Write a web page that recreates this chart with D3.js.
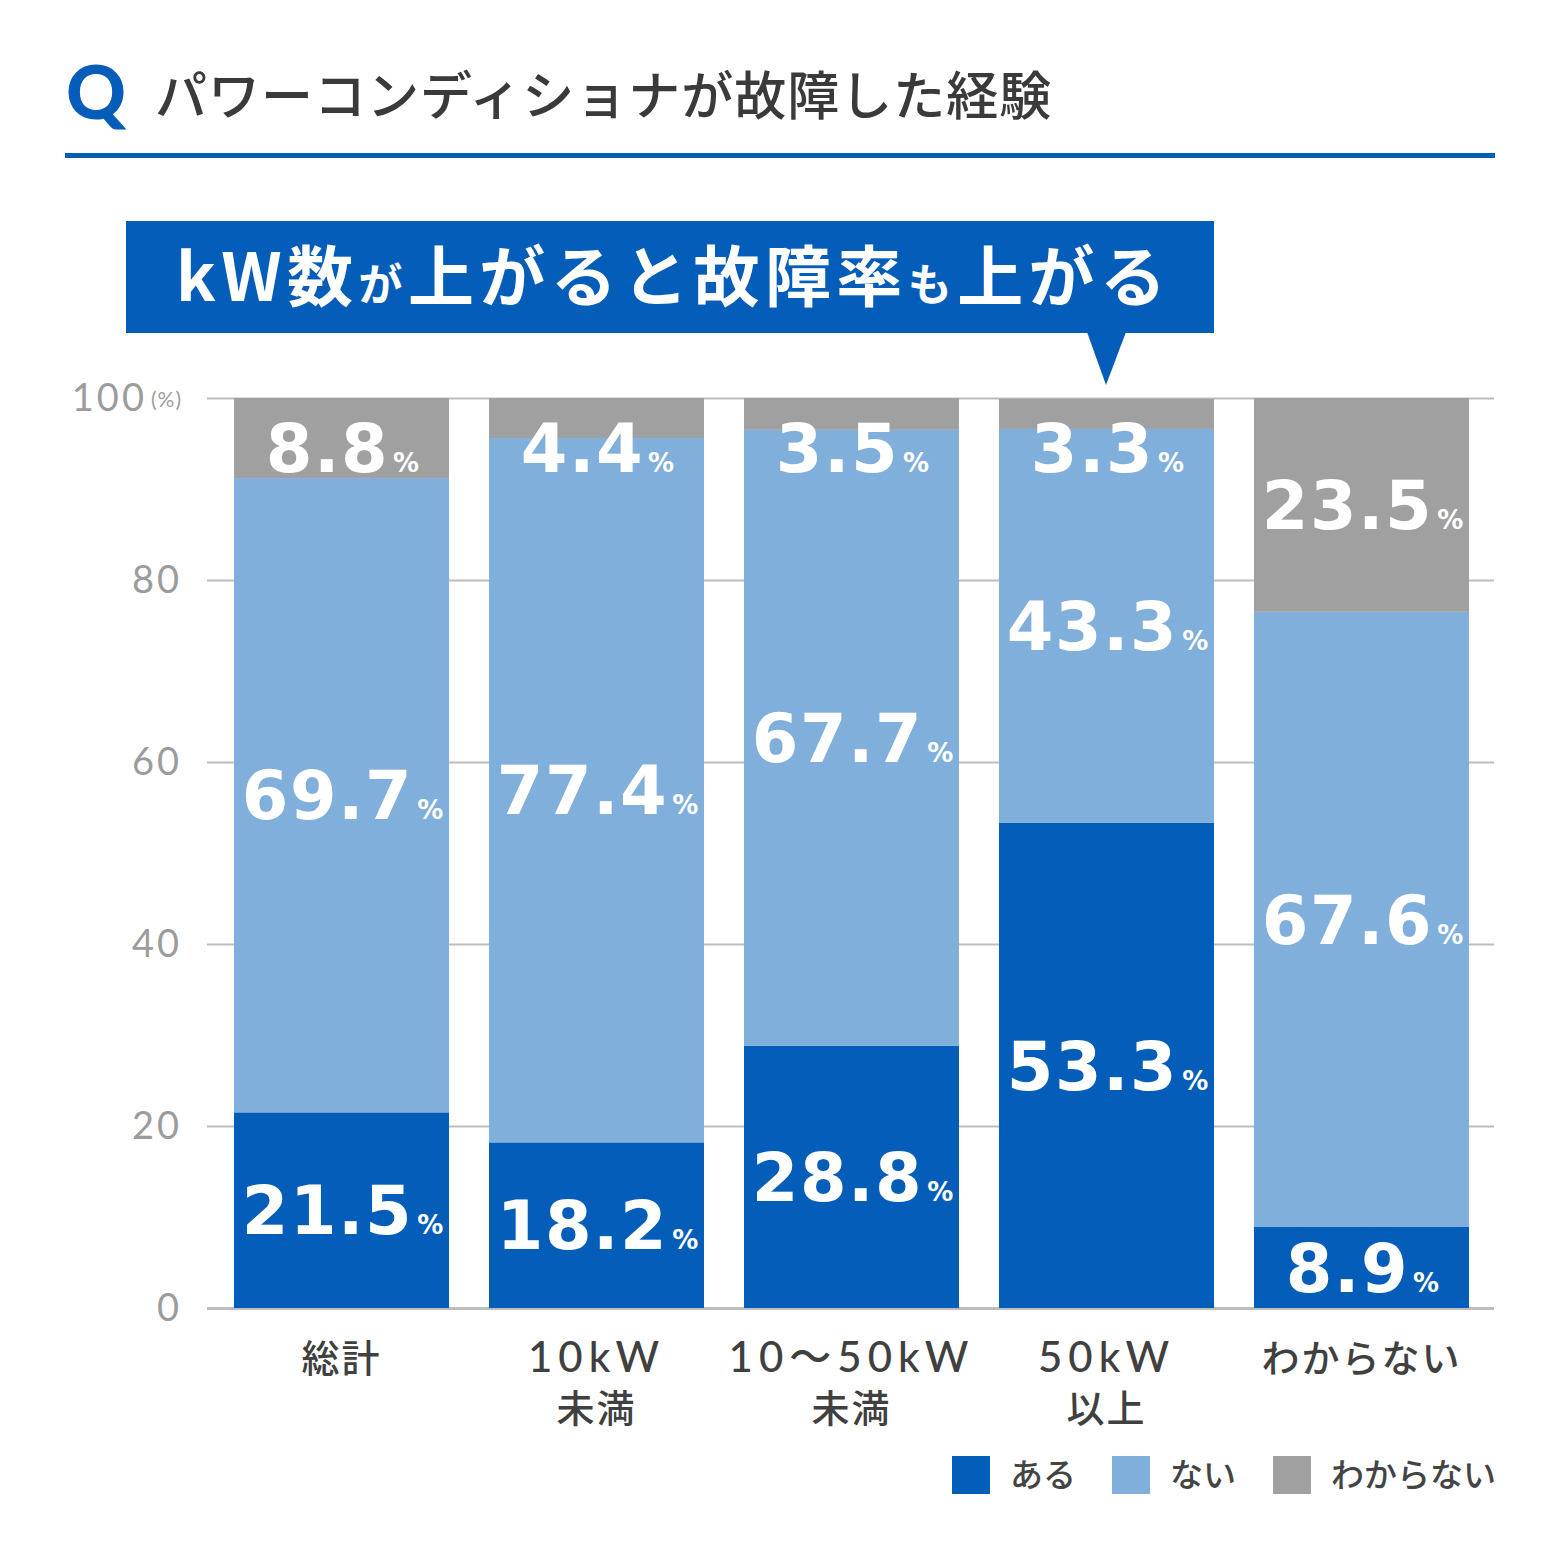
<!DOCTYPE html>
<html lang="ja">
<head>
<meta charset="UTF-8">
<title>パワーコンディショナが故障した経験</title>
<style>
  html, body { margin: 0; padding: 0; background: #fff; }
  svg { display: block; }
</style>
</head>
<body>
<div id="chart"></div>
<script src="https://d3js.org/d3.v7.min.js"></script>
<script>
// data
const categories = ["総計", "10kW未満", "10〜50kW未満", "50kW以上", "わからない"];
const categoryLines = [["総計"], ["10kW", "未満"], ["10〜50kW", "未満"], ["50kW", "以上"], ["わからない"]];
const seriesNames = ["ある", "ない", "わからない"];
const aruValues = [21.5, 18.2, 28.8, 53.3, 8.9];
const naiValues = [69.7, 77.4, 67.7, 43.3, 67.6];
const wakaranaiValues = [8.8, 4.4, 3.5, 3.3, 23.5];
const yTicks = [0, 20, 40, 60, 80, 100];

const width = 1560, height = 1560;
const colors = ["#045db8", "#80afdb", "#a0a0a0"];
const jp = "'Noto Sans CJK JP', 'Noto Sans', sans-serif";
const num = "'DejaVu Sans', 'Noto Sans', sans-serif";

const svg = d3.select("#chart").append("svg")
  .attr("width", width)
  .attr("height", height)
  .attr("viewBox", [0, 0, width, height]);

// header
svg.append("text")
  .attr("x", 66).attr("y", 119)
  .attr("font-family", "Lato, sans-serif").attr("font-weight", 900)
  .attr("font-size", 74).attr("fill", "#045db8")
  .text("Q");

svg.append("text")
  .attr("x", 155).attr("y", 115)
  .attr("font-family", jp).attr("font-weight", 500)
  .attr("font-size", 52).attr("fill", "#3a3a3a")
  .attr("letter-spacing", 1)
  .text("パワーコンディショナが故障した経験");

svg.append("rect")
  .attr("x", 65).attr("y", 153).attr("width", 1430).attr("height", 5)
  .attr("fill", "#045db8");

// callout
svg.append("rect")
  .attr("x", 126).attr("y", 221).attr("width", 1088).attr("height", 112)
  .attr("fill", "#045db8");
svg.append("path")
  .attr("d", "M1087,332 L1126,332 L1106,385 Z")
  .attr("fill", "#045db8");

const callout = svg.append("text")
  .attr("x", 176).attr("y", 277)
  .attr("font-size", 66)
  .attr("dy", "0.36em")
  .attr("font-family", jp).attr("font-weight", 700)
  .attr("fill", "#fff")
  .attr("textLength", 990).attr("lengthAdjust", "spacing");
[["kW数", 66], ["が", 44], ["上がると故障率", 66], ["も", 44], ["上がる", 66]].forEach(([t, s]) => {
  callout.append("tspan").attr("font-size", s).text(t);
});

// scales
const x = d3.scaleBand(categories, [214, 1489])
  .paddingInner(40 / 255)
  .paddingOuter(20 / 255);
const y = d3.scaleLinear([0, 100], [1308, 398]);

// grid / y axis
const yAxis = svg.append("g")
  .attr("transform", "translate(207,0)")
  .call(d3.axisLeft(y).tickValues(yTicks).tickSize(-(1494 - 207)).tickPadding(25));
yAxis.select(".domain").remove();
yAxis.selectAll(".tick line")
  .attr("stroke", "#bdbdbd")
  .attr("stroke-width", d => d === 0 ? 3 : 2);
yAxis.selectAll(".tick text")
  .attr("font-family", "Lato, sans-serif").attr("font-size", 38)
  .attr("fill", "#9c9c9c").attr("letter-spacing", 3)
  .each(function (d) {
    if (d === 100) {
      d3.select(this).text("100")
        .append("tspan").attr("font-size", 21).attr("letter-spacing", 1)
        .attr("dx", 4).attr("dy", -4).text("(%)");
    }
  });

// stacked bars
const rows = categories.map((c, i) => ({
  cat: c,
  "ある": aruValues[i],
  "ない": naiValues[i],
  "わからない": wakaranaiValues[i]
}));
const stacked = d3.stack().keys(seriesNames)(rows);

const layers = svg.append("g")
  .selectAll("g")
  .data(stacked)
  .join("g")
  .attr("fill", (d, i) => colors[i]);

layers.selectAll("rect")
  .data(d => d)
  .join("rect")
  .attr("x", d => x(d.data.cat))
  .attr("y", d => y(d[1]))
  .attr("width", x.bandwidth())
  .attr("height", d => y(d[0]) - y(d[1]));

// value labels (centred in segment, but kept clear of the top edge)
const labels = svg.append("g")
  .selectAll("g")
  .data(stacked)
  .join("g")
  .selectAll("text")
  .data(function (d) { return d.map(p => ({ p, key: d.key })); })
  .join("text")
  .attr("x", d => x(d.p.data.cat) + x.bandwidth() / 2 + 1)
  .attr("y", d => Math.min(Math.max(y((d.p[0] + d.p[1]) / 2), y(100) + 50), y(0) - 36))
  .attr("font-size", 67)
  .attr("dy", "0.36em")
  .attr("text-anchor", "middle")
  .attr("font-family", num).attr("font-weight", 700)
  .attr("fill", "#fff");
labels.append("tspan")
  .attr("letter-spacing", 1.5)
  .text(d => d.p.data[d.key].toFixed(1));
labels.append("tspan")
  .attr("font-size", 26)
  .attr("dx", 4)
  .text("%");

// x labels
const xLabels = svg.append("g")
  .selectAll("text")
  .data(categories)
  .join("text")
  .attr("x", d => x(d) + x.bandwidth() / 2)
  .attr("y", 1372)
  .attr("text-anchor", "middle")
  .attr("font-family", jp).attr("font-weight", 500)
  .attr("font-size", 38).attr("fill", "#404040");
xLabels.selectAll("tspan")
  .data((d, i) => categoryLines[i])
  .join("tspan")
  .attr("x", function () { return this.parentNode.getAttribute("x"); })
  .attr("dy", (d, i) => i === 0 ? 0 : 50)
  .attr("font-family", d => /[0-9a-zA-Z]/.test(d) ? "Lato, " + jp : jp)
  .attr("font-size", d => /[0-9a-zA-Z]/.test(d) ? 42 : 38)
  .attr("letter-spacing", d => /[0-9a-zA-Z]/.test(d) ? 6 : 2)
  .text(d => d);

// legend
const legendX = [952, 1112, 1273];
const legend = svg.append("g")
  .selectAll("g")
  .data(seriesNames)
  .join("g")
  .attr("transform", (d, i) => `translate(${legendX[i]},1456)`);
legend.append("rect")
  .attr("width", 38).attr("height", 38)
  .attr("fill", (d, i) => colors[i]);
legend.append("text")
  .attr("x", 58).attr("y", 31)
  .attr("font-family", jp).attr("font-weight", 500)
  .attr("font-size", 33).attr("fill", "#444")
  .text(d => d);
</script>
</body>
</html>
